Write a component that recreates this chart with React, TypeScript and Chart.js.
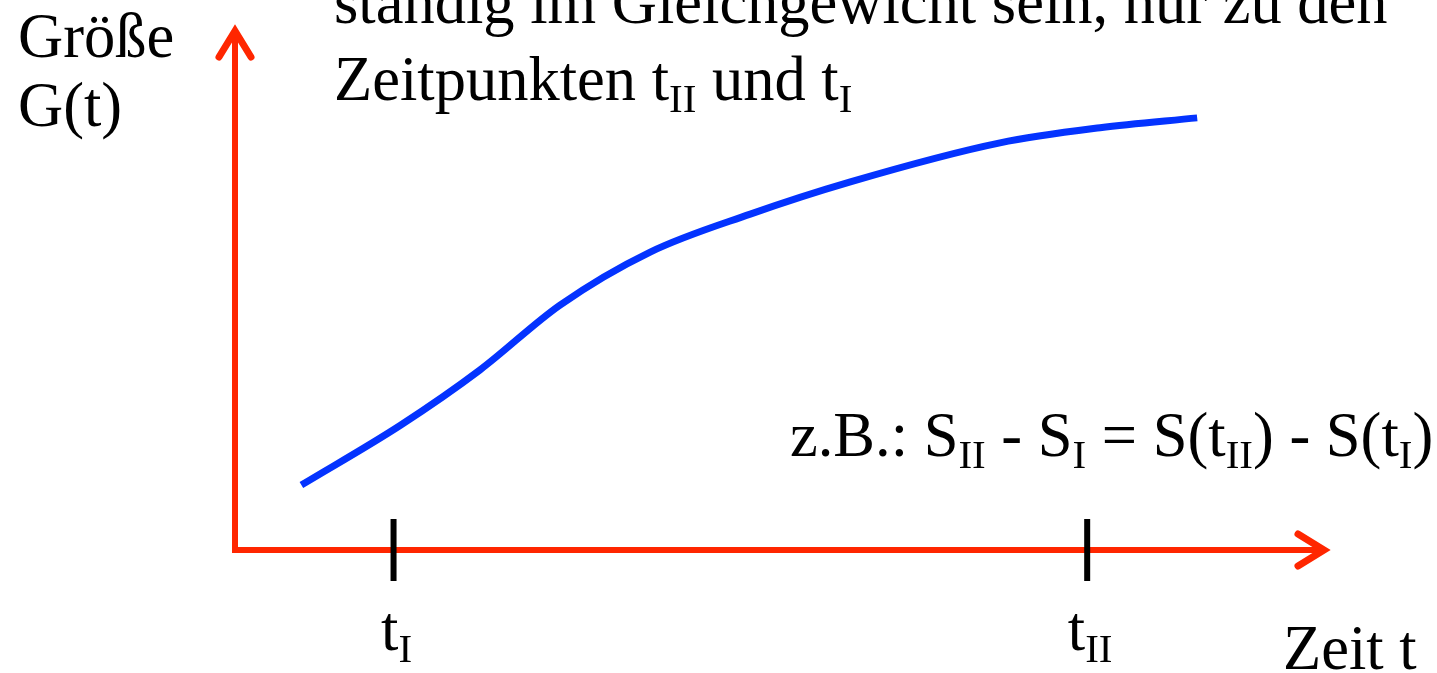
import React, { useEffect, useRef } from "react";
import { Chart, registerables } from "chart.js";

Chart.register(...registerables);

// Time axis and the size G(t) along the curve
const timeValues = [0.67, 1.67, 2.47, 3.28, 4.19, 5.2, 6.21, 7.72, 8.73, 9.71];
const sizeValues = [1.25, 2.4, 3.46, 4.71, 5.73, 6.46, 7.08, 7.83, 8.12, 8.31];

// Marked instants on the time axis
const markerTimes = [1.6, 8.6];
// Rich text pieces: [text, isSubscript]
type Piece = [string, boolean];
const markerLabels: Piece[][] = [
  [["t", false], ["I", true]],
  [["t", false], ["II", true]],
];

const yTitleLines = ["Größe", "G(t)"];
const xTitle = "Zeit t";
const headerLines: Piece[][] = [
  [["ständig im Gleichgewicht sein, nur zu den", false]],
  [["Zeitpunkten t", false], ["II", true], [" und t", false], ["I", true]],
];
const exampleLine: Piece[] = [
  ["z.B.: S", false], ["II", true], [" - S", false], ["I", true],
  [" = S(t", false], ["II", true], [") - S(t", false], ["I", true], [")", false],
];

const RED = "#FF2600";
const BLUE = "#0433FF";
const FONT = "62.5px 'Liberation Serif', 'Times New Roman', serif";
const SUB_FONT = "41px 'Liberation Serif', 'Times New Roman', serif";
const SUB_DROP = 12;

function richWidth(ctx: CanvasRenderingContext2D, pieces: Piece[]) {
  let w = 0;
  for (const [t, sub] of pieces) {
    ctx.font = sub ? SUB_FONT : FONT;
    w += ctx.measureText(t).width;
  }
  return w;
}

function drawRich(ctx: CanvasRenderingContext2D, pieces: Piece[], x: number, y: number) {
  let cx = x;
  ctx.textBaseline = "alphabetic";
  ctx.textAlign = "left";
  for (const [t, sub] of pieces) {
    ctx.font = sub ? SUB_FONT : FONT;
    ctx.fillText(t, cx, sub ? y + SUB_DROP : y);
    cx += ctx.measureText(t).width;
  }
}

const diagramPlugin = {
  id: "diagram",
  beforeDatasetsDraw(chart: any) {
    const ctx: CanvasRenderingContext2D = chart.ctx;
    const { left, right, top, bottom } = chart.chartArea;
    ctx.save();
    ctx.strokeStyle = RED;
    ctx.lineWidth = 6;
    ctx.lineCap = "butt";
    // axes
    ctx.beginPath();
    ctx.moveTo(left, bottom + 3);
    ctx.lineTo(left, top + 4);
    ctx.moveTo(left - 3, bottom);
    ctx.lineTo(right - 4, bottom);
    ctx.stroke();
    // arrow heads
    ctx.lineWidth = 7;
    ctx.lineCap = "round";
    ctx.lineJoin = "miter";
    ctx.beginPath();
    ctx.moveTo(left - 16, top + 27);
    ctx.lineTo(left, top + 1);
    ctx.lineTo(left + 16, top + 27);
    ctx.moveTo(right - 27, bottom - 16);
    ctx.lineTo(right - 1, bottom);
    ctx.lineTo(right - 27, bottom + 16);
    ctx.stroke();
    ctx.restore();
  },
  afterDatasetsDraw(chart: any) {
    const ctx: CanvasRenderingContext2D = chart.ctx;
    const xs = chart.scales.x;
    const { bottom } = chart.chartArea;
    ctx.save();
    ctx.fillStyle = "#000";
    // marker ticks and labels
    markerTimes.forEach((t, i) => {
      const px = xs.getPixelForValue(t);
      ctx.strokeStyle = "#000";
      ctx.lineWidth = 6;
      ctx.lineCap = "butt";
      ctx.beginPath();
      ctx.moveTo(px, bottom - 31);
      ctx.lineTo(px, bottom + 31);
      ctx.stroke();
      const w = richWidth(ctx, markerLabels[i]);
      drawRich(ctx, markerLabels[i], px - w / 2 + 3, bottom + 100);
    });
    // titles
    ctx.font = FONT;
    ctx.textBaseline = "alphabetic";
    ctx.textAlign = "left";
    ctx.fillText(yTitleLines[0], 18, 57);
    ctx.fillText(yTitleLines[1], 18, 126);
    ctx.fillText(xTitle, 1283, 669);
    drawRich(ctx, headerLines[0], 334, 23);
    drawRich(ctx, headerLines[1], 334, 100);
    drawRich(ctx, exampleLine, 790, 456);
    ctx.restore();
  },
};

export default function App() {
  const ref = useRef<HTMLCanvasElement | null>(null);
  useEffect(() => {
    if (!ref.current) return;
    const chart = new Chart(ref.current, {
      type: "line",
      data: {
        datasets: [
          {
            data: timeValues.map((x, i) => ({ x, y: sizeValues[i] })),
            borderColor: BLUE,
            borderWidth: 7,
            pointRadius: 0,
            cubicInterpolationMode: "monotone",
            fill: false,
          },
        ],
      },
      options: {
        animation: false,
        responsive: false,
        maintainAspectRatio: false,
        layout: { padding: { left: 235, right: 112, top: 30, bottom: 123 } },
        scales: {
          x: { type: "linear", min: 0, max: 11, display: false },
          y: { type: "linear", min: 0, max: 10, display: false },
        },
        plugins: { legend: { display: false }, tooltip: { enabled: false } },
        events: [],
      },
      plugins: [diagramPlugin],
    });
    return () => chart.destroy();
  }, []);
  return (
    <canvas
      ref={ref}
      width={1437}
      height={673}
      style={{ position: "absolute", left: 0, top: 0, width: 1437, height: 673, background: "#fff" }}
    />
  );
}
